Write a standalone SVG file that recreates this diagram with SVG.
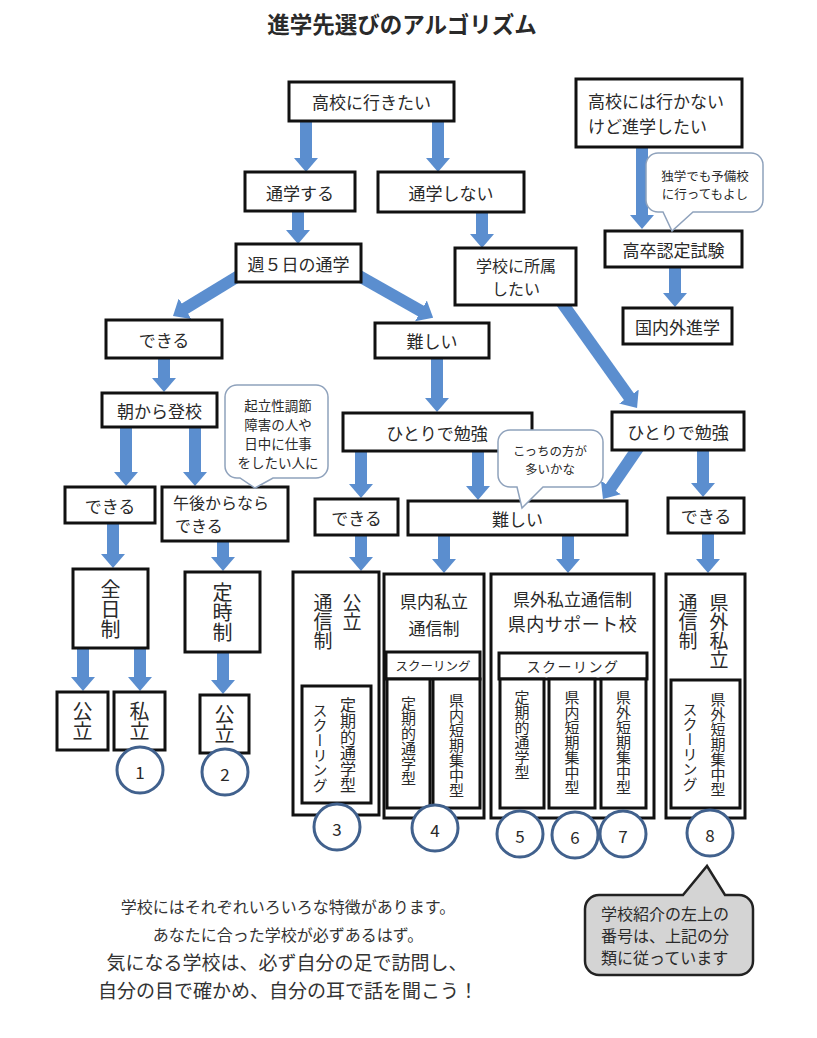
<svg xmlns="http://www.w3.org/2000/svg" width="817" height="1038" viewBox="0 0 817 1038">
<defs>
<style>
text{font-family:"Noto Sans CJK JP","Noto Sans",sans-serif;fill:#2a2a2a}
.box{fill:#fff;stroke:#111;stroke-width:3}
.c{text-anchor:middle;dominant-baseline:central}
.l{dominant-baseline:central}
.v{writing-mode:vertical-rl}
.f12{font-size:12.5px}.f13{font-size:13.5px}.f14{font-size:14px}.f15{font-size:15px}.f16{font-size:16px}.f17{font-size:17px}.f18{font-size:18px}.f19{font-size:19px}.f20{font-size:20px}
.call{fill:#fff;stroke:#8FA2BC;stroke-width:1.5}
.num{fill:#fff;stroke:#41618D;stroke-width:3}
#connectors line{stroke:#5B8ECF;stroke-width:12;marker-end:url(#ah)}
</style>
<marker id="ah" markerUnits="userSpaceOnUse" markerWidth="14" markerHeight="24" refX="1" refY="12" orient="auto"><path d="M0,0 L14,12 L0,24 Z" fill="#5B8ECF"/></marker>
</defs>
<rect width="817" height="1038" fill="#fff"/>
<text id="title" x="402" y="23" class="c" style="font-size:22.5px;font-weight:700">進学先選びのアルゴリズム</text>

<g id="connectors">
<line x1="306" y1="118" x2="306" y2="159"/>
<line x1="438" y1="118" x2="438" y2="159"/>
<line x1="298" y1="209" x2="298" y2="231"/>
<line x1="482" y1="210" x2="482" y2="235"/>
<line x1="245" y1="272" x2="184.1" y2="309.2"/>
<line x1="352" y1="272" x2="421.8" y2="311.4"/>
<line x1="164" y1="356" x2="164" y2="379"/>
<line x1="437" y1="356" x2="437" y2="399"/>
<line x1="560" y1="300" x2="629.5" y2="397.4"/>
<line x1="642" y1="145" x2="642" y2="216"/>
<line x1="675" y1="265" x2="675" y2="294"/>
<line x1="126" y1="425" x2="126" y2="473"/>
<line x1="195" y1="425" x2="195" y2="473"/>
<line x1="361" y1="449" x2="361" y2="485"/>
<line x1="478" y1="449" x2="478" y2="487"/>
<line x1="640" y1="445" x2="610.3" y2="488.3"/>
<line x1="703" y1="448" x2="703" y2="484"/>
<line x1="113" y1="521" x2="113" y2="555"/>
<line x1="223" y1="539" x2="223" y2="558"/>
<line x1="361" y1="533" x2="361" y2="558"/>
<line x1="444" y1="533" x2="444" y2="560"/>
<line x1="568" y1="533" x2="568" y2="560"/>
<line x1="708" y1="531" x2="708" y2="560"/>
<line x1="83" y1="646" x2="83" y2="678"/>
<line x1="140" y1="646" x2="140" y2="678"/>
<line x1="223" y1="650" x2="223" y2="681"/>
</g>

<g id="n-koukou"><rect class="box" x="289" y="82" width="165" height="39"/><text class="c f17" x="371.5" y="101.5">高校に行きたい</text></g>
<g id="n-shingaku"><rect class="box" x="576" y="79" width="166" height="68"/><text class="l f17" x="588" y="100.5">高校には行かない</text><text class="l f17" x="588" y="125">けど進学したい</text></g>
<g id="n-tsugaku"><rect class="box" x="245" y="172" width="110" height="39"/><text class="c f17" x="300" y="192">通学する</text></g>
<g id="n-tsugakushinai"><rect class="box" x="378" y="172" width="146" height="40"/><text class="c f17" x="451" y="192">通学しない</text></g>
<g id="n-shu5"><rect class="box" x="236" y="244" width="125" height="38"/><text class="c f17" x="298.5" y="263">週５日の通学</text></g>
<g id="n-shozoku"><rect class="box" x="455" y="248" width="121" height="57"/><text class="c f16" x="516" y="264.5">学校に所属</text><text class="c f16" x="516" y="288">したい</text></g>
<g id="n-kousotsu"><rect class="box" x="605" y="231" width="137" height="36"/><text class="c f17" x="673.5" y="249">高卒認定試験</text></g>
<g id="n-kokunai"><rect class="box" x="623" y="308" width="109" height="36"/><text class="c f17" x="677.5" y="326">国内外進学</text></g>
<g id="n-dekiru1"><rect class="box" x="106" y="320" width="116" height="38"/><text class="c f17" x="164" y="339">できる</text></g>
<g id="n-muzukashii1"><rect class="box" x="375" y="323" width="114" height="35"/><text class="c f17" x="432" y="340.5">難しい</text></g>
<g id="n-asa"><rect class="box" x="102" y="393" width="115" height="34"/><text class="c f17" x="159.5" y="410">朝から登校</text></g>
<g id="n-hitori1"><rect class="box" x="343" y="413" width="189" height="38"/><text class="c f17" x="437" y="432">ひとりで勉強</text></g>
<g id="n-hitori2"><rect class="box" x="612" y="412" width="132" height="38"/><text class="c f17" x="678" y="431">ひとりで勉強</text></g>
<g id="n-dekiru2"><rect class="box" x="65" y="487" width="90" height="36"/><text class="c f17" x="110" y="505">できる</text></g>
<g id="n-gogo"><rect class="box" x="162" y="487" width="126" height="54"/><text class="l f16" x="173" y="501.5">午後からなら</text><text class="l f16" x="175" y="525">できる</text></g>
<g id="n-dekiru3"><rect class="box" x="315" y="499" width="83" height="36"/><text class="c f17" x="356.5" y="517">できる</text></g>
<g id="n-muzukashii2"><rect class="box" x="408" y="501" width="219" height="34"/><text class="c f17" x="517.5" y="518">難しい</text></g>
<g id="n-dekiru4"><rect class="box" x="668" y="498" width="76" height="35"/><text class="c f17" x="706" y="515.5">できる</text></g>

<g id="n-zennichi"><rect class="box" x="73" y="569" width="75" height="79"/><text class="v f20" x="110.5" y="579">全日制</text></g>
<g id="n-teiji"><rect class="box" x="185" y="572" width="75" height="80"/><text class="v f20" x="222.5" y="582">定時制</text></g>
<g id="n-kouritsu1"><rect class="box" x="57" y="692" width="51" height="58"/><text class="v f20" x="82.5" y="701">公立</text></g>
<g id="n-shiritsu"><rect class="box" x="114" y="692" width="51" height="58"/><text class="v f20" x="139.5" y="701">私立</text></g>
<g id="n-kouritsu2"><rect class="box" x="200" y="695" width="49" height="58"/><text class="v f20" x="224.5" y="704">公立</text></g>

<g id="n-kouritsu-tsushin"><rect class="box" x="293" y="572" width="86" height="243"/><text class="v f19" x="323" y="593">通信制</text><text class="v f19" x="352" y="593">公立</text><rect class="box" x="302" y="686" width="69" height="117"/><text class="v f15" x="320" y="703">スクーリング</text><text class="v f16" x="348" y="697">定期的通学型</text></g>
<g id="n-kennai"><rect class="box" x="384" y="574" width="100" height="244"/><text class="c f17" x="434" y="600">県内私立</text><text class="c f17" x="434" y="627">通信制</text><rect class="box" x="386" y="652" width="94" height="27"/><text class="c f12" x="433" y="665.5">スクーリング</text><rect class="box" x="387" y="679" width="43" height="129"/><text class="v f15" x="408.5" y="696">定期的通学型</text><rect class="box" x="433" y="679" width="47" height="129"/><text class="v f15" x="456.5" y="693">県内短期集中型</text></g>
<g id="n-kengai-support"><rect class="box" x="491" y="574" width="163" height="244"/><text class="c f17" x="572.5" y="598">県外私立通信制</text><text class="c f18" x="572.5" y="623" style="letter-spacing:0.5px">県内サポート校</text><rect class="box" x="499" y="653" width="148" height="26"/><text class="c f14" x="573" y="666" style="letter-spacing:1.5px">スクーリング</text><rect class="box" x="500" y="679" width="44" height="129"/><text class="v f15" x="522" y="690">定期的通学型</text><rect class="box" x="549" y="679" width="46" height="129"/><text class="v f15" x="572" y="690">県内短期集中型</text><rect class="box" x="601" y="679" width="45" height="129"/><text class="v f15" x="623.5" y="690">県外短期集中型</text></g>
<g id="n-kengai"><rect class="box" x="666" y="574" width="79" height="244"/><text class="v f19" x="688" y="593">通信制</text><text class="v f19" x="719" y="593">県外私立</text><rect class="box" x="671" y="680" width="69" height="128"/><text class="v f15" x="690" y="702">スクーリング</text><text class="v f15" x="718" y="692">県外短期集中型</text></g>

<g id="callout-kiritsu"><path class="call" d="M237,385 H316 A12,12 0 0 1 328,397 V466 A12,12 0 0 1 316,478 H273 L255,488 L240,478 H237 A12,12 0 0 1 225,466 V397 A12,12 0 0 1 237,385 Z"/><text class="c f13" x="278" y="405">起立性調節</text><text class="c f13" x="278" y="424">障害の人や</text><text class="c f13" x="278" y="443">日中に仕事</text><text class="c f13" x="278" y="462">をしたい人に</text></g>
<g id="callout-dokugaku"><path class="call" d="M658,153 H751 A12,12 0 0 1 763,165 V200 A12,12 0 0 1 751,212 H693 L672,231 L663,212 H658 A12,12 0 0 1 646,200 V165 A12,12 0 0 1 658,153 Z"/><text class="c f12" x="705" y="175">独学でも予備校</text><text class="c f12" x="705" y="193">に行ってもよし</text></g>
<g id="callout-kocchi"><path class="call" d="M510,430 H591 A12,12 0 0 1 603,442 V475 A12,12 0 0 1 591,487 H543 L522,508 L517,487 H510 A12,12 0 0 1 498,475 V442 A12,12 0 0 1 510,430 Z"/><text class="c f12" x="550" y="450">こっちの方が</text><text class="c f12" x="550" y="468">多いかな</text></g>

<g id="numbers">
<circle class="num" cx="140" cy="770" r="23"/><text class="c f17" x="140" y="771">1</text>
<circle class="num" cx="225" cy="772" r="23"/><text class="c f17" x="225" y="773">2</text>
<circle class="num" cx="337" cy="827" r="23"/><text class="c f17" x="337" y="828">3</text>
<circle class="num" cx="435" cy="828" r="23"/><text class="c f17" x="435" y="829">4</text>
<circle class="num" cx="520" cy="834" r="23"/><text class="c f17" x="520" y="835">5</text>
<circle class="num" cx="575" cy="835" r="23"/><text class="c f17" x="575" y="836">6</text>
<circle class="num" cx="623" cy="834" r="23"/><text class="c f17" x="623" y="835">7</text>
<circle class="num" cx="710" cy="833" r="23"/><text class="c f17" x="710" y="834">8</text>
</g>

<g id="footer">
<text class="c f16" x="288" y="906" style="fill:#333">学校にはそれぞれいろいろな特徴があります。</text>
<text class="c f16" x="288" y="934" style="fill:#333">あなたに合った学校が必ずあるはず。</text>
<text class="c f19" x="287" y="961" style="fill:#333">気になる学校は、必ず自分の足で訪問し、</text>
<text class="c f19" x="288" y="989" style="fill:#333">自分の目で確かめ、自分の耳で話を聞こう！</text>
</g>

<g id="callout-note"><path d="M599,895 H683 L707,866 L725,895 H739 A14,14 0 0 1 753,909 V961 A14,14 0 0 1 739,975 H599 A14,14 0 0 1 585,961 V909 A14,14 0 0 1 599,895 Z" fill="#D4D4D4" stroke="#222" stroke-width="2.5"/><text class="l f16" x="601" y="913">学校紹介の左上の</text><text class="l f16" x="601" y="935">番号は、上記の分</text><text class="l f16" x="601" y="957">類に従っています</text></g>
</svg>
